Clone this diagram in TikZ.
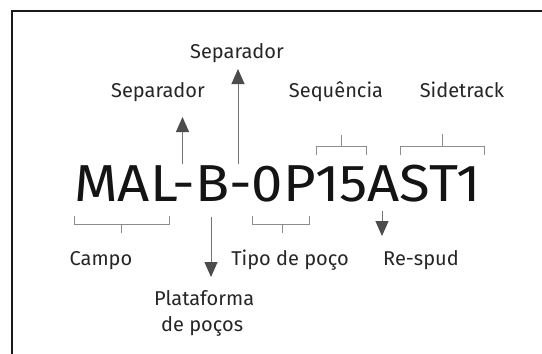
\documentclass[tikz,border=0pt]{standalone}
\usepackage{fontspec}
\setmainfont{Fira Sans}
\usetikzlibrary{arrows.meta}
\begin{document}
\begin{tikzpicture}[x=1pt,y=-1pt,
  lbl/.style={font=\fontsize{20}{20}\selectfont, text=black!85, anchor=base, inner sep=0pt},
  brk/.style={draw=black!45, line width=0.9pt},
  arr/.style={draw=black!55, line width=1pt, -{Triangle[width=13pt,length=15pt,color=black!70]}},
  frame/.style={draw=black!90, line width=2.5pt}]
\useasboundingbox (0,0) rectangle (542,354);
\fill[white] (0,0) rectangle (542,354);
% frame (cropped on right and bottom)
\draw[frame] (12,354) -- (12,11) -- (542,11);
% main code
\node[anchor=base west, font=\fontsize{52}{52}\selectfont, text=black!92, inner sep=0pt] (code) at (74,201) {\scalebox{1.08}[1]{MAL-B-0P15AST1}};
% labels
\node[lbl] (sep2) at (237,58) {Separador};
\node[lbl] (sep1) at (158,97) {Separador};
\node[lbl] (seq) at (336,97) {Sequência};
\node[lbl] (side) at (462,97) {Sidetrack};
\node[lbl] (campo) at (101,265) {Campo};
\node[lbl] (tipo) at (290,265) {Tipo de poço};
\node[lbl] (resp) at (421,265) {Re-spud};
\node[lbl, anchor=base west] (plat) at (154,305) {Plataforma};
\node[lbl, anchor=base west] (plat2) at (161,331) {de poços};
% arrows
\coordinate (a1s) at (182.5,164); \coordinate (a1e) at (182.5,117);
\coordinate (a2s) at (238,164); \coordinate (a2e) at (238,69);
\coordinate (a3s) at (211,217); \coordinate (a3e) at (211,277);
\coordinate (a4s) at (382,211); \coordinate (a4e) at (382,236);
\draw[arr] (a1s) -- (a1e);
\draw[arr] (a2s) -- (a2e);
\draw[arr] (a3s) -- (a3e);
\draw[arr] (a4s) -- (a4e);
% brackets above
\draw[brk] (316,155) -- (316,146) -- (366,146) -- (366,155) (341,146) -- (341,135);
\draw[brk] (400,155) -- (400,146) -- (484,146) -- (484,155) (442,146) -- (442,134);
% brackets below
\draw[brk] (74,216) -- (74,224) -- (169,224) -- (169,216) (121,224) -- (121,233);
\draw[brk] (252,216) -- (252,224) -- (309,224) -- (309,216) (282,224) -- (282,233);
\end{tikzpicture}
\end{document}
